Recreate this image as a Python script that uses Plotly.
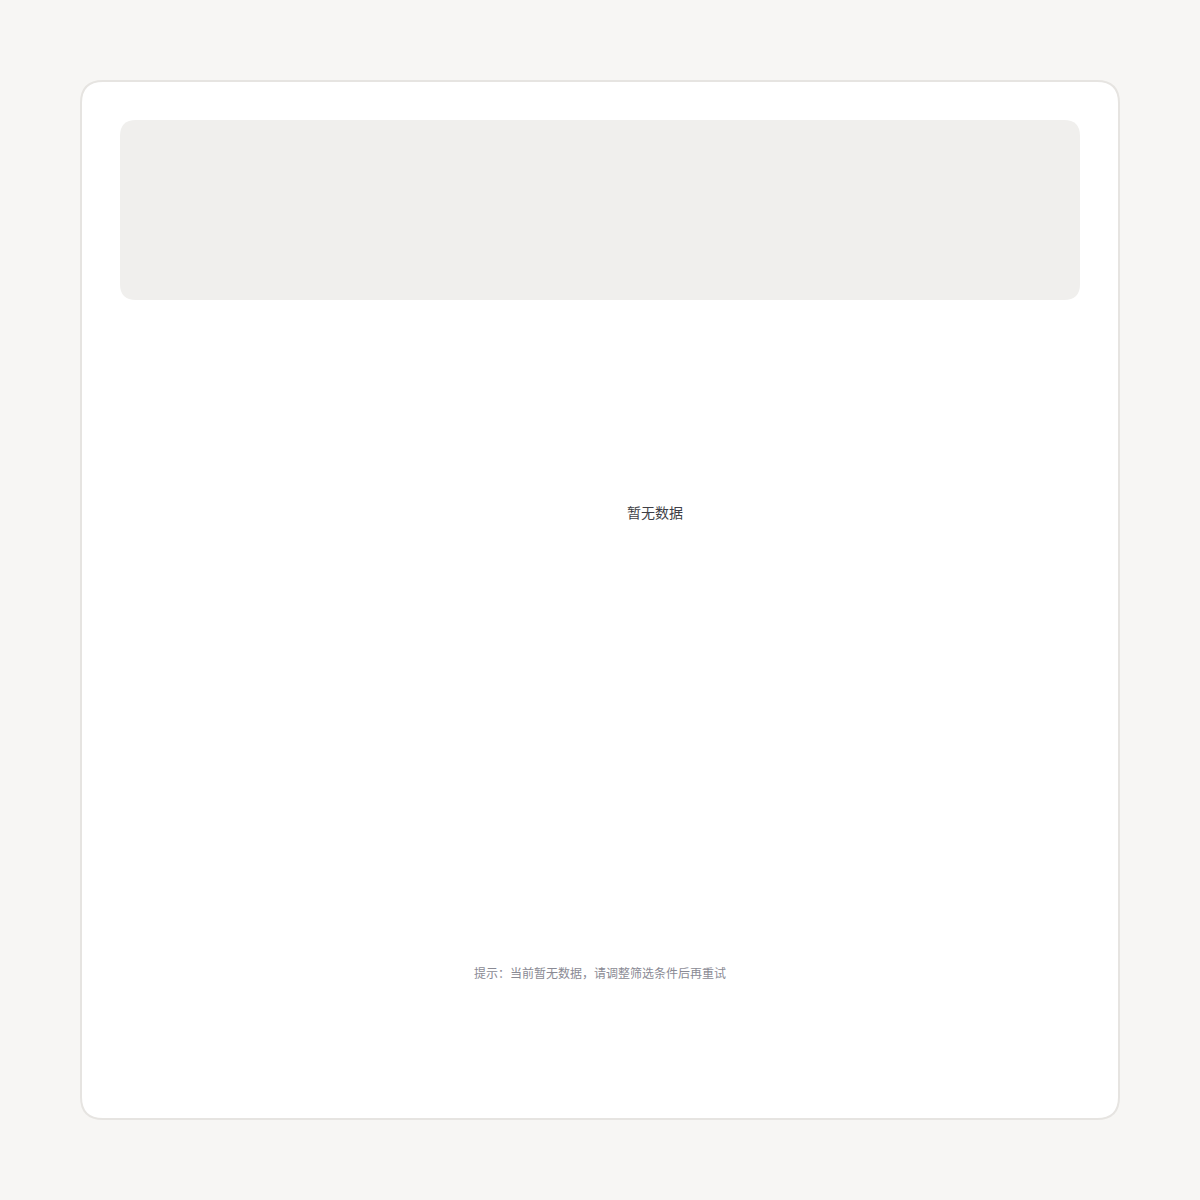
#package import
import plotly.graph_objects as go

#chart data: the reference chart is empty, only the empty-state message is shown
categories = []
values = []

#texts
empty_text = "暂无数据"
footer_text = "提示：当前暂无数据，请调整筛选条件后再重试"

#canvas size in px
W = 1200
H = 1200

#colours
page_bg = "#f7f6f4"
card_bg = "#ffffff"
card_line = "#e6e4e1"
band_bg = "#f0efed"


#rounded rectangle path, pixel box converted to paper coords
def rounded_rect(x0, y0, x1, y1, r):
    px = lambda v: v / W
    py = lambda v: 1 - v / H
    path = (
        f"M {px(x0 + r)},{py(y0)} "
        f"L {px(x1 - r)},{py(y0)} "
        f"Q {px(x1)},{py(y0)} {px(x1)},{py(y0 + r)} "
        f"L {px(x1)},{py(y1 - r)} "
        f"Q {px(x1)},{py(y1)} {px(x1 - r)},{py(y1)} "
        f"L {px(x0 + r)},{py(y1)} "
        f"Q {px(x0)},{py(y1)} {px(x0)},{py(y1 - r)} "
        f"L {px(x0)},{py(y0 + r)} "
        f"Q {px(x0)},{py(y0)} {px(x0 + r)},{py(y0)} Z"
    )
    return path


#empty bar trace (no records to draw)
trace = go.Bar(x=categories, y=values, marker_color="#5b8def", showlegend=False)

fig = go.Figure(data=[trace])

#card and header band
fig.add_shape(type="path", path=rounded_rect(81, 81, 1119, 1119, 22),
              xref="paper", yref="paper", fillcolor=card_bg,
              line=dict(color=card_line, width=2), layer="below")
fig.add_shape(type="path", path=rounded_rect(120, 120, 1080, 300, 16),
              xref="paper", yref="paper", fillcolor=band_bg,
              line=dict(width=0), layer="below")

#empty state message in the middle of the plot area
fig.add_annotation(text=empty_text, x=655 / W, y=1 - 512 / H,
                   xref="paper", yref="paper", showarrow=False,
                   xanchor="center", yanchor="middle",
                   font=dict(size=14, color="#3f3f46",
                             family="Noto Sans CJK SC, DejaVu Sans, sans-serif"))

#footer note
fig.add_annotation(text=footer_text, x=600 / W, y=1 - 972 / H,
                   xref="paper", yref="paper", showarrow=False,
                   xanchor="center", yanchor="middle",
                   font=dict(size=12, color="#8a8a94",
                             family="Noto Sans CJK SC, DejaVu Sans, sans-serif"))

#layout
fig.update_layout(
    width=W,
    height=H,
    margin=dict(l=0, r=0, t=0, b=0),
    paper_bgcolor=page_bg,
    plot_bgcolor="rgba(0,0,0,0)",
    xaxis=dict(visible=False, domain=[230 / W, 1080 / W]),
    yaxis=dict(visible=False, domain=[1 - 690 / H, 1 - 335 / H]),
    showlegend=False,
)

#drop the default page margin so the figure sits at 0,0, no modebar
fig.write_html("out.html",
               config={"displayModeBar": False},
               post_script="document.body.style.margin='0';"
                           "document.body.style.background='" + page_bg + "';")
